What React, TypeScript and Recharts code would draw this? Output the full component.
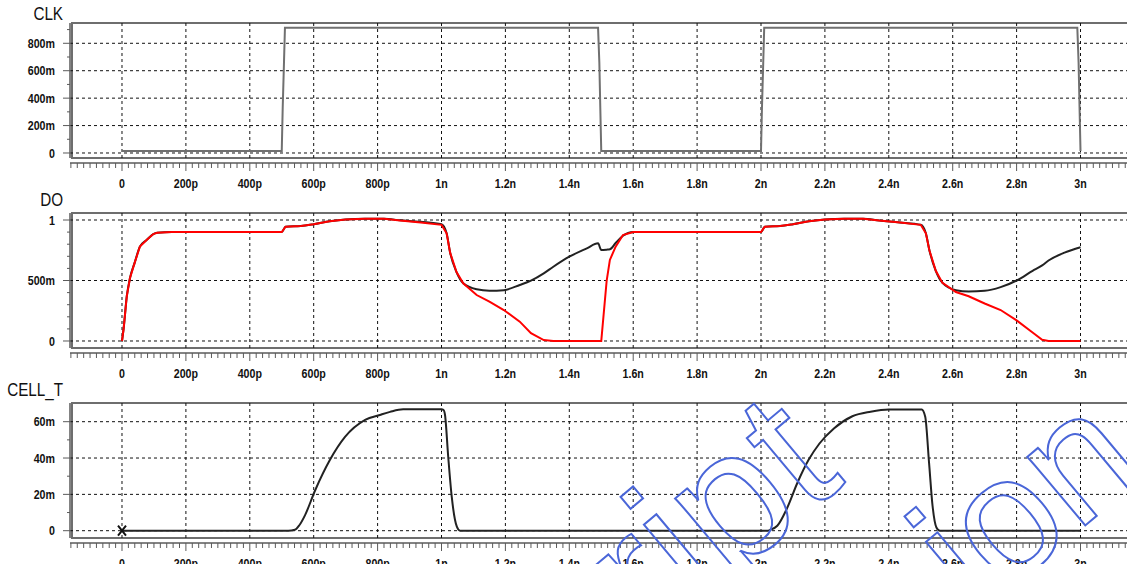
import React from "react";
import {
  LineChart, Line, XAxis, YAxis, ReferenceLine, ReferenceArea,
} from "recharts";

// ---- time axis (picoseconds) ----
const X_MIN = -162.75;
const X_MAX = 3186.2;
const BOX_X = -156.5;

const TIME_TICKS = [0, 200, 400, 600, 800, 1000, 1200, 1400, 1600, 1800, 2000, 2200, 2400, 2600, 2800, 3000];
const TIME_LABELS = ["0", "200p", "400p", "600p", "800p", "1n", "1.2n", "1.4n", "1.6n", "1.8n", "2n", "2.2n", "2.4n", "2.6n", "2.8n", "3n"];

// ---- CLK ----
const CLK_T = [0, 500, 503, 507, 510, 1490, 1494, 1497, 1500, 2000, 2003, 2007, 2010, 2990, 2994, 2997, 3000];
const CLK_V = [0.015, 0.015, 0.33, 0.66, 0.914, 0.914, 0.66, 0.33, 0.015, 0.015, 0.33, 0.66, 0.914, 0.914, 0.66, 0.33, 0.015];
const CLK_Y_TICKS = [0, 0.2, 0.4, 0.6, 0.8];
const CLK_Y_LABELS = ["0", "200m", "400m", "600m", "800m"];
const CLK_Y_MINOR = [0.1, 0.3, 0.5, 0.7, 0.9];

// ---- DO (red and black traces share the time grid) ----
const DO_T = [0, 5, 15, 25, 40, 56, 77, 98, 110, 155, 500, 512, 560, 600, 650, 700, 760, 820, 870, 935, 1000,
  1016, 1027, 1047, 1068, 1110, 1150, 1195, 1245, 1280, 1320, 1350, 1400, 1455, 1490, 1500, 1517, 1527, 1545,
  1568, 1600, 2000, 2012, 2060, 2100, 2150, 2200, 2260, 2320, 2370, 2435, 2500, 2516, 2527, 2547, 2568, 2610,
  2650, 2700, 2750, 2800, 2850, 2880, 2900, 2950, 3000];
const DO_RED = [0, 0.1, 0.37, 0.52, 0.65, 0.78, 0.835, 0.884, 0.895, 0.9, 0.9, 0.945, 0.95, 0.965, 0.99, 1.005, 1.01, 1.01, 0.995, 0.98, 0.96,
  0.89, 0.73, 0.57, 0.477, 0.38, 0.325, 0.256, 0.16, 0.064, 0.008, 0, 0, 0, 0, 0, 0.5, 0.67, 0.78,
  0.876, 0.9, 0.9, 0.945, 0.95, 0.965, 0.99, 1.005, 1.01, 1.01, 0.995, 0.98, 0.96, 0.89, 0.75, 0.58, 0.48, 0.405,
  0.37, 0.31, 0.256, 0.17, 0.07, 0.01, 0, 0, 0];
const DO_BLACK = [0, 0.1, 0.37, 0.52, 0.65, 0.78, 0.835, 0.884, 0.895, 0.9, 0.9, 0.945, 0.95, 0.965, 0.99, 1.005, 1.01, 1.01, 0.998, 0.985, 0.965,
  0.89, 0.73, 0.57, 0.477, 0.427, 0.415, 0.42, 0.463, 0.499, 0.559, 0.614, 0.697, 0.766, 0.807, 0.752, 0.755, 0.758, 0.81,
  0.87, 0.9, 0.9, 0.945, 0.95, 0.965, 0.99, 1.005, 1.01, 1.01, 0.995, 0.98, 0.96, 0.89, 0.75, 0.58, 0.48, 0.42,
  0.41, 0.415, 0.445, 0.5, 0.58, 0.625, 0.665, 0.73, 0.775];
const DO_Y_TICKS = [0, 0.5, 1];
const DO_Y_LABELS = ["0", "500m", "1"];
const DO_Y_MINOR = [0.1, 0.2, 0.3, 0.4, 0.6, 0.7, 0.8, 0.9];

// ---- CELL_T ----
const CELL_T = [0, 520, 541, 555, 573, 604, 651, 698, 761, 807, 839, 880, 1000, 1006, 1011, 1021, 1032, 1048, 1058,
  2020, 2029, 2051, 2080, 2114, 2149, 2183, 2229, 2286, 2343, 2400, 2503, 2514, 2526, 2537, 2549, 2560, 3000];
const CELL_V = [0, 0, 0.0005, 0.003, 0.0086, 0.022, 0.039, 0.0516, 0.061, 0.0637, 0.0654, 0.0668, 0.0668, 0.0665, 0.0637, 0.0407, 0.0187, 0.0022, 0,
  0, 0.0005, 0.0027, 0.0118, 0.0264, 0.039, 0.048, 0.0564, 0.063, 0.0655, 0.0667, 0.0667, 0.0627, 0.0373, 0.0136, 0.0018, 0, 0];
const CELL_Y_TICKS = [0, 0.02, 0.04, 0.06];
const CELL_Y_LABELS = ["0", "20m", "40m", "60m"];
const CELL_Y_MINOR = [0.01, 0.03, 0.05];

const MINOR_TIME: number[] = [];
for (let t = -160; t <= 3180; t += 20) MINOR_TIME.push(t);

const LABEL_FONT = "'Liberation Sans', Arial, sans-serif";
const AXIS_GREY = "#5a5a5a";
const SQUEEZE = 0.82; // labels are a narrow bold face

function TimeTick(props: any) {
  const { x, y, payload } = props;
  const v = payload.value as number;
  const idx = TIME_TICKS.indexOf(v);
  const major = v % 200 === 0;
  return (
    <g>
      <line x1={x} y1={y} x2={x} y2={y + (major ? 8 : 5)} stroke={AXIS_GREY} strokeWidth={1} />
      {idx >= 0 && (
        <text
          transform={`translate(${x} ${y + 25}) scale(${SQUEEZE} 1)`}
          textAnchor="middle" fontFamily={LABEL_FONT} fontWeight="bold" fontSize={13} fill="#111"
        >
          {TIME_LABELS[idx]}
        </text>
      )}
    </g>
  );
}

function makeValueTick(majors: number[], labels: string[]) {
  return function ValueTick(props: any) {
    const { x, y, payload } = props;
    const idx = majors.findIndex((m) => Math.abs(m - payload.value) < 1e-9);
    const len = idx >= 0 ? 7 : 3;
    return (
      <g>
        <line x1={x - len} y1={y} x2={x} y2={y} stroke={AXIS_GREY} strokeWidth={1} />
        {idx >= 0 && (
          <text
            transform={`translate(${x - 15} ${y + 4.7}) scale(${SQUEEZE} 1)`}
            textAnchor="end" fontFamily={LABEL_FONT} fontWeight="bold" fontSize={13} fill="#111"
          >
            {labels[idx]}
          </text>
        )}
      </g>
    );
  };
}

interface PanelProps {
  top: number;
  domain: [number, number];
  yTicks: number[];
  yLabels: string[];
  yMinor: number[];
  data: any[];
  children: React.ReactNode;
}

function Panel({ top, domain, yTicks, yLabels, yMinor, data, children }: PanelProps) {
  const [yMin, yMax] = domain;
  const boxBottom = yMax - ((yMax - yMin) * 135) / 140;
  const ValueTick = makeValueTick(yTicks, yLabels);
  return (
    <div style={{ position: "absolute", left: 0, top }}>
      <LineChart width={1150} height={193} data={data} margin={{ top: 23, right: 10, bottom: 0, left: 0 }}>
        <XAxis
          dataKey="t" type="number" domain={[X_MIN, X_MAX]} allowDataOverflow
          ticks={MINOR_TIME} interval={0} tickSize={0} tickMargin={0}
          tick={<TimeTick />} tickLine={false} height={30}
          axisLine={{ stroke: AXIS_GREY, strokeWidth: 1.5 }}
        />
        <YAxis
          type="number" domain={domain} allowDataOverflow width={70}
          ticks={[...yTicks, ...yMinor]} interval={0} tickSize={0} tickMargin={0}
          tick={<ValueTick />} tickLine={false} axisLine={false}
        />
        <ReferenceArea
          x1={BOX_X} x2={X_MAX} y1={boxBottom} y2={yMax}
          fill="none" fillOpacity={0} stroke="#6e6e6e" strokeWidth={2} ifOverflow="visible"
        />
        {yTicks.map((v) => (
          <ReferenceLine key={"h" + v} y={v} stroke="#111" strokeDasharray="3 3" />
        ))}
        {TIME_TICKS.map((t) => (
          <ReferenceLine
            key={"v" + t}
            segment={[{ x: t, y: boxBottom }, { x: t, y: yMax }]}
            stroke="#111" strokeDasharray="3 3"
          />
        ))}
        <ReferenceLine
          segment={[{ x: X_MIN, y: boxBottom }, { x: X_MIN, y: yMax }]}
          stroke={AXIS_GREY} strokeWidth={1.5} ifOverflow="visible"
        />
        {children}
      </LineChart>
    </div>
  );
}

const clkData = CLK_T.map((t, i) => ({ t, v: CLK_V[i] }));
const doData = DO_T.map((t, i) => ({ t, red: DO_RED[i], black: DO_BLACK[i] }));
const cellData = CELL_T.map((t, i) => ({ t, v: CELL_V[i] }));

function CrossDot(props: any) {
  const { cx, cy, index } = props;
  if (index !== 0) return <g key={"d" + index} />;
  return (
    <path key="cross" d={`M${cx - 4},${cy - 5}L${cx + 4},${cy + 5}M${cx + 4},${cy - 5}L${cx - 4},${cy + 5}`} stroke="#111" strokeWidth={2} />
  );
}

export default function App() {
  return (
    <div style={{ position: "absolute", left: 0, top: 0, width: 1127, height: 564, overflow: "hidden", background: "#fff" }}>
      <Panel top={0} domain={[-0.073, 0.948]} yTicks={CLK_Y_TICKS} yLabels={CLK_Y_LABELS} yMinor={CLK_Y_MINOR} data={clkData}>
        <Line dataKey="v" type="linear" stroke="#707070" strokeWidth={2} dot={false} isAnimationActive={false} />
      </Panel>
      <Panel top={190} domain={[-0.0992, 1.0579]} yTicks={DO_Y_TICKS} yLabels={DO_Y_LABELS} yMinor={DO_Y_MINOR} data={doData}>
        <Line dataKey="black" type="monotone" stroke="#222" strokeWidth={2} dot={false} isAnimationActive={false} />
        <Line dataKey="red" type="linear" stroke="#ff0000" strokeWidth={2} dot={false} isAnimationActive={false} />
      </Panel>
      <Panel top={380} domain={[-0.00677, 0.07029]} yTicks={CELL_Y_TICKS} yLabels={CELL_Y_LABELS} yMinor={CELL_Y_MINOR} data={cellData}>
        <Line dataKey="v" type="monotone" stroke="#222" strokeWidth={2} dot={<CrossDot />} isAnimationActive={false} />
      </Panel>
      <svg width={1127} height={564} style={{ position: "absolute", left: 0, top: 0, pointerEvents: "none" }}>
        <g fontFamily={LABEL_FONT} fontSize={17.5} fill="#111" textAnchor="end">
          <text transform="translate(63 20) scale(0.87 1)">CLK</text>
          <text transform="translate(63 206) scale(0.87 1)">DO</text>
          <text transform="translate(63 396) scale(0.87 1)">CELL_T</text>
        </g>
        <g fontFamily={LABEL_FONT} fill="none" stroke="#4a66d8" strokeWidth={2}>
          <text x={650} y={647} fontSize={185} transform="rotate(-40 650 647)">ript</text>
          <text x={975} y={618} fontSize={170} transform="rotate(-40 975 618)">ion</text>
        </g>
      </svg>
    </div>
  );
}
